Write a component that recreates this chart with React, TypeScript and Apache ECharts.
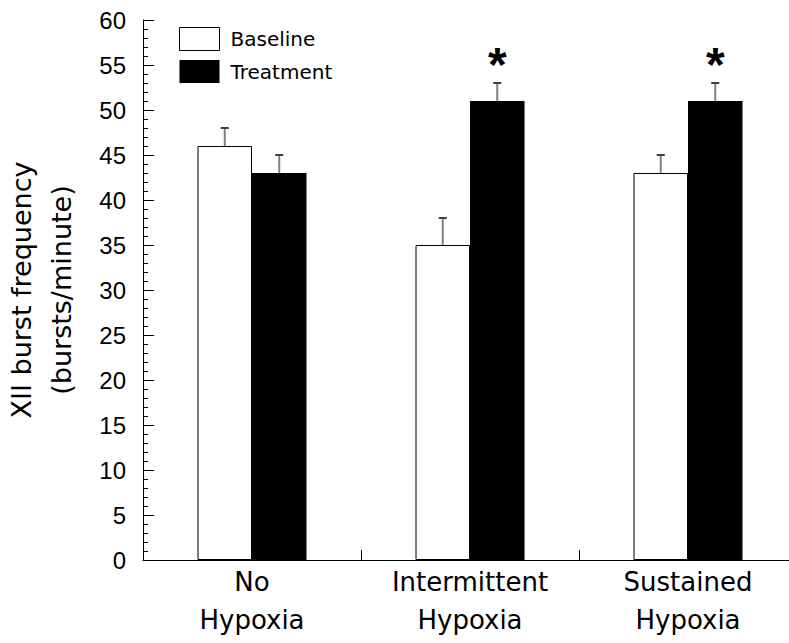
import React, { useEffect, useRef } from "react";
import * as echarts from "echarts";

const categories = ["No\nHypoxia", "Intermittent\nHypoxia", "Sustained\nHypoxia"];
const baseline = [46, 35, 43];
const baselineErr = [2, 3, 2];
const treatment = [43, 51, 51];
const treatmentErr = [2, 2, 2];
const significant = [false, true, true];
const yTicks = { min: 0, max: 60, interval: 5 };
const seriesNames = ["Baseline", "Treatment"];
const yTitle = "XII burst frequency\n(bursts/minute)";

function makeErrorRender(sign: number, withSig: boolean) {
  return (params: any, api: any) => {
    const i = api.value(0);
    const v = api.value(1);
    const e = api.value(2);
    const sig = api.value(3);
    const band = api.size([1, 0])[0];
    const x = api.coord([i, v])[0] + sign * band * 0.125;
    const yBase = api.coord([i, v])[1];
    const yTop = api.coord([i, v + e])[1];
    const children: any[] = [
      {
        type: "line",
        shape: { x1: x, y1: yBase, x2: x, y2: yTop },
        style: { stroke: "#808080", lineWidth: 2 },
      },
      {
        type: "line",
        shape: { x1: x - 4, y1: yTop, x2: x + 4, y2: yTop },
        style: { stroke: "#404040", lineWidth: 2 },
      },
    ];
    if (withSig && sig) {
      children.push({
        type: "text",
        x: x,
        y: yTop - 19,
        style: {
          text: "*",
          fontSize: 48,
          fontWeight: "bold",
          fontFamily: "Liberation Sans",
          align: "center",
          verticalAlign: "middle",
          fill: "#000",
        },
      });
    }
    return { type: "group", children };
  };
}

export default function App() {
  const ref = useRef<HTMLDivElement>(null);
  useEffect(() => {
    if (!ref.current) return;
    const chart = echarts.init(ref.current, undefined, { renderer: "svg" });
    chart.setOption({
      animation: false,
      backgroundColor: "#fff",
      grid: {
        left: 143,
        top: 20,
        width: 654,
        height: 540,
        containLabel: false,
        outerBoundsMode: "none",
      },
      legend: {
        orient: "vertical",
        left: 174,
        top: 22,
        itemWidth: 40,
        itemHeight: 23,
        itemGap: 9,
        textStyle: {
          fontFamily: "DejaVu Sans",
          fontSize: 20,
          color: "#000",
          padding: [0, 0, 0, 6],
        },
        data: [
          { name: seriesNames[0], icon: "rect", itemStyle: { color: "#fff", borderColor: "#000", borderWidth: 1 } },
          { name: seriesNames[1], icon: "rect", itemStyle: { color: "#000" } },
        ],
      },
      xAxis: {
        type: "category",
        data: categories,
        boundaryGap: true,
        axisLine: { lineStyle: { color: "#000", width: 1 } },
        axisTick: { show: true, inside: true, length: 10, alignWithLabel: false, lineStyle: { color: "#000" } },
        axisLabel: {
          fontFamily: "DejaVu Sans",
          fontSize: 26,
          lineHeight: 38,
          color: "#000",
          margin: 3,
        },
      },
      yAxis: {
        type: "value",
        min: yTicks.min,
        max: yTicks.max,
        interval: yTicks.interval,
        name: yTitle,
        nameLocation: "middle",
        nameRotate: 90,
        nameGap: 62,
        nameTextStyle: {
          fontFamily: "DejaVu Sans",
          fontSize: 27,
          lineHeight: 40,
          color: "#000",
        },
        splitLine: { show: false },
        axisLine: { show: true, lineStyle: { color: "#000", width: 1 } },
        axisTick: { show: true, inside: true, length: 11, lineStyle: { color: "#000" } },
        minorTick: { show: true, splitNumber: 5, length: 5, lineStyle: { color: "#000" } },
        axisLabel: {
          fontFamily: "Liberation Sans",
          fontSize: 24,
          color: "#000",
          margin: 17,
        },
      },
      series: [
        {
          name: seriesNames[0],
          type: "bar",
          data: baseline,
          barWidth: "25%",
          barGap: "0%",
          itemStyle: { color: "#fff", borderColor: "#000", borderWidth: 1 },
          z: 2,
        },
        {
          name: seriesNames[1],
          type: "bar",
          data: treatment,
          barWidth: "25%",
          barGap: "0%",
          itemStyle: { color: "#000" },
          z: 2,
        },
        {
          type: "custom",
          name: "baselineErr",
          renderItem: makeErrorRender(-1, false),
          data: baseline.map((v, i) => [i, v, baselineErr[i], 0]),
          z: 3,
          silent: true,
        },
        {
          type: "custom",
          name: "treatmentErr",
          renderItem: makeErrorRender(1, true),
          data: treatment.map((v, i) => [i, v, treatmentErr[i], significant[i] ? 1 : 0]),
          z: 3,
          silent: true,
        },
      ],
    });
    return () => chart.dispose();
  }, []);
  return (
    <div
      ref={ref}
      style={{ position: "fixed", left: 0, top: 0, width: 789, height: 643, background: "#fff" }}
    />
  );
}
